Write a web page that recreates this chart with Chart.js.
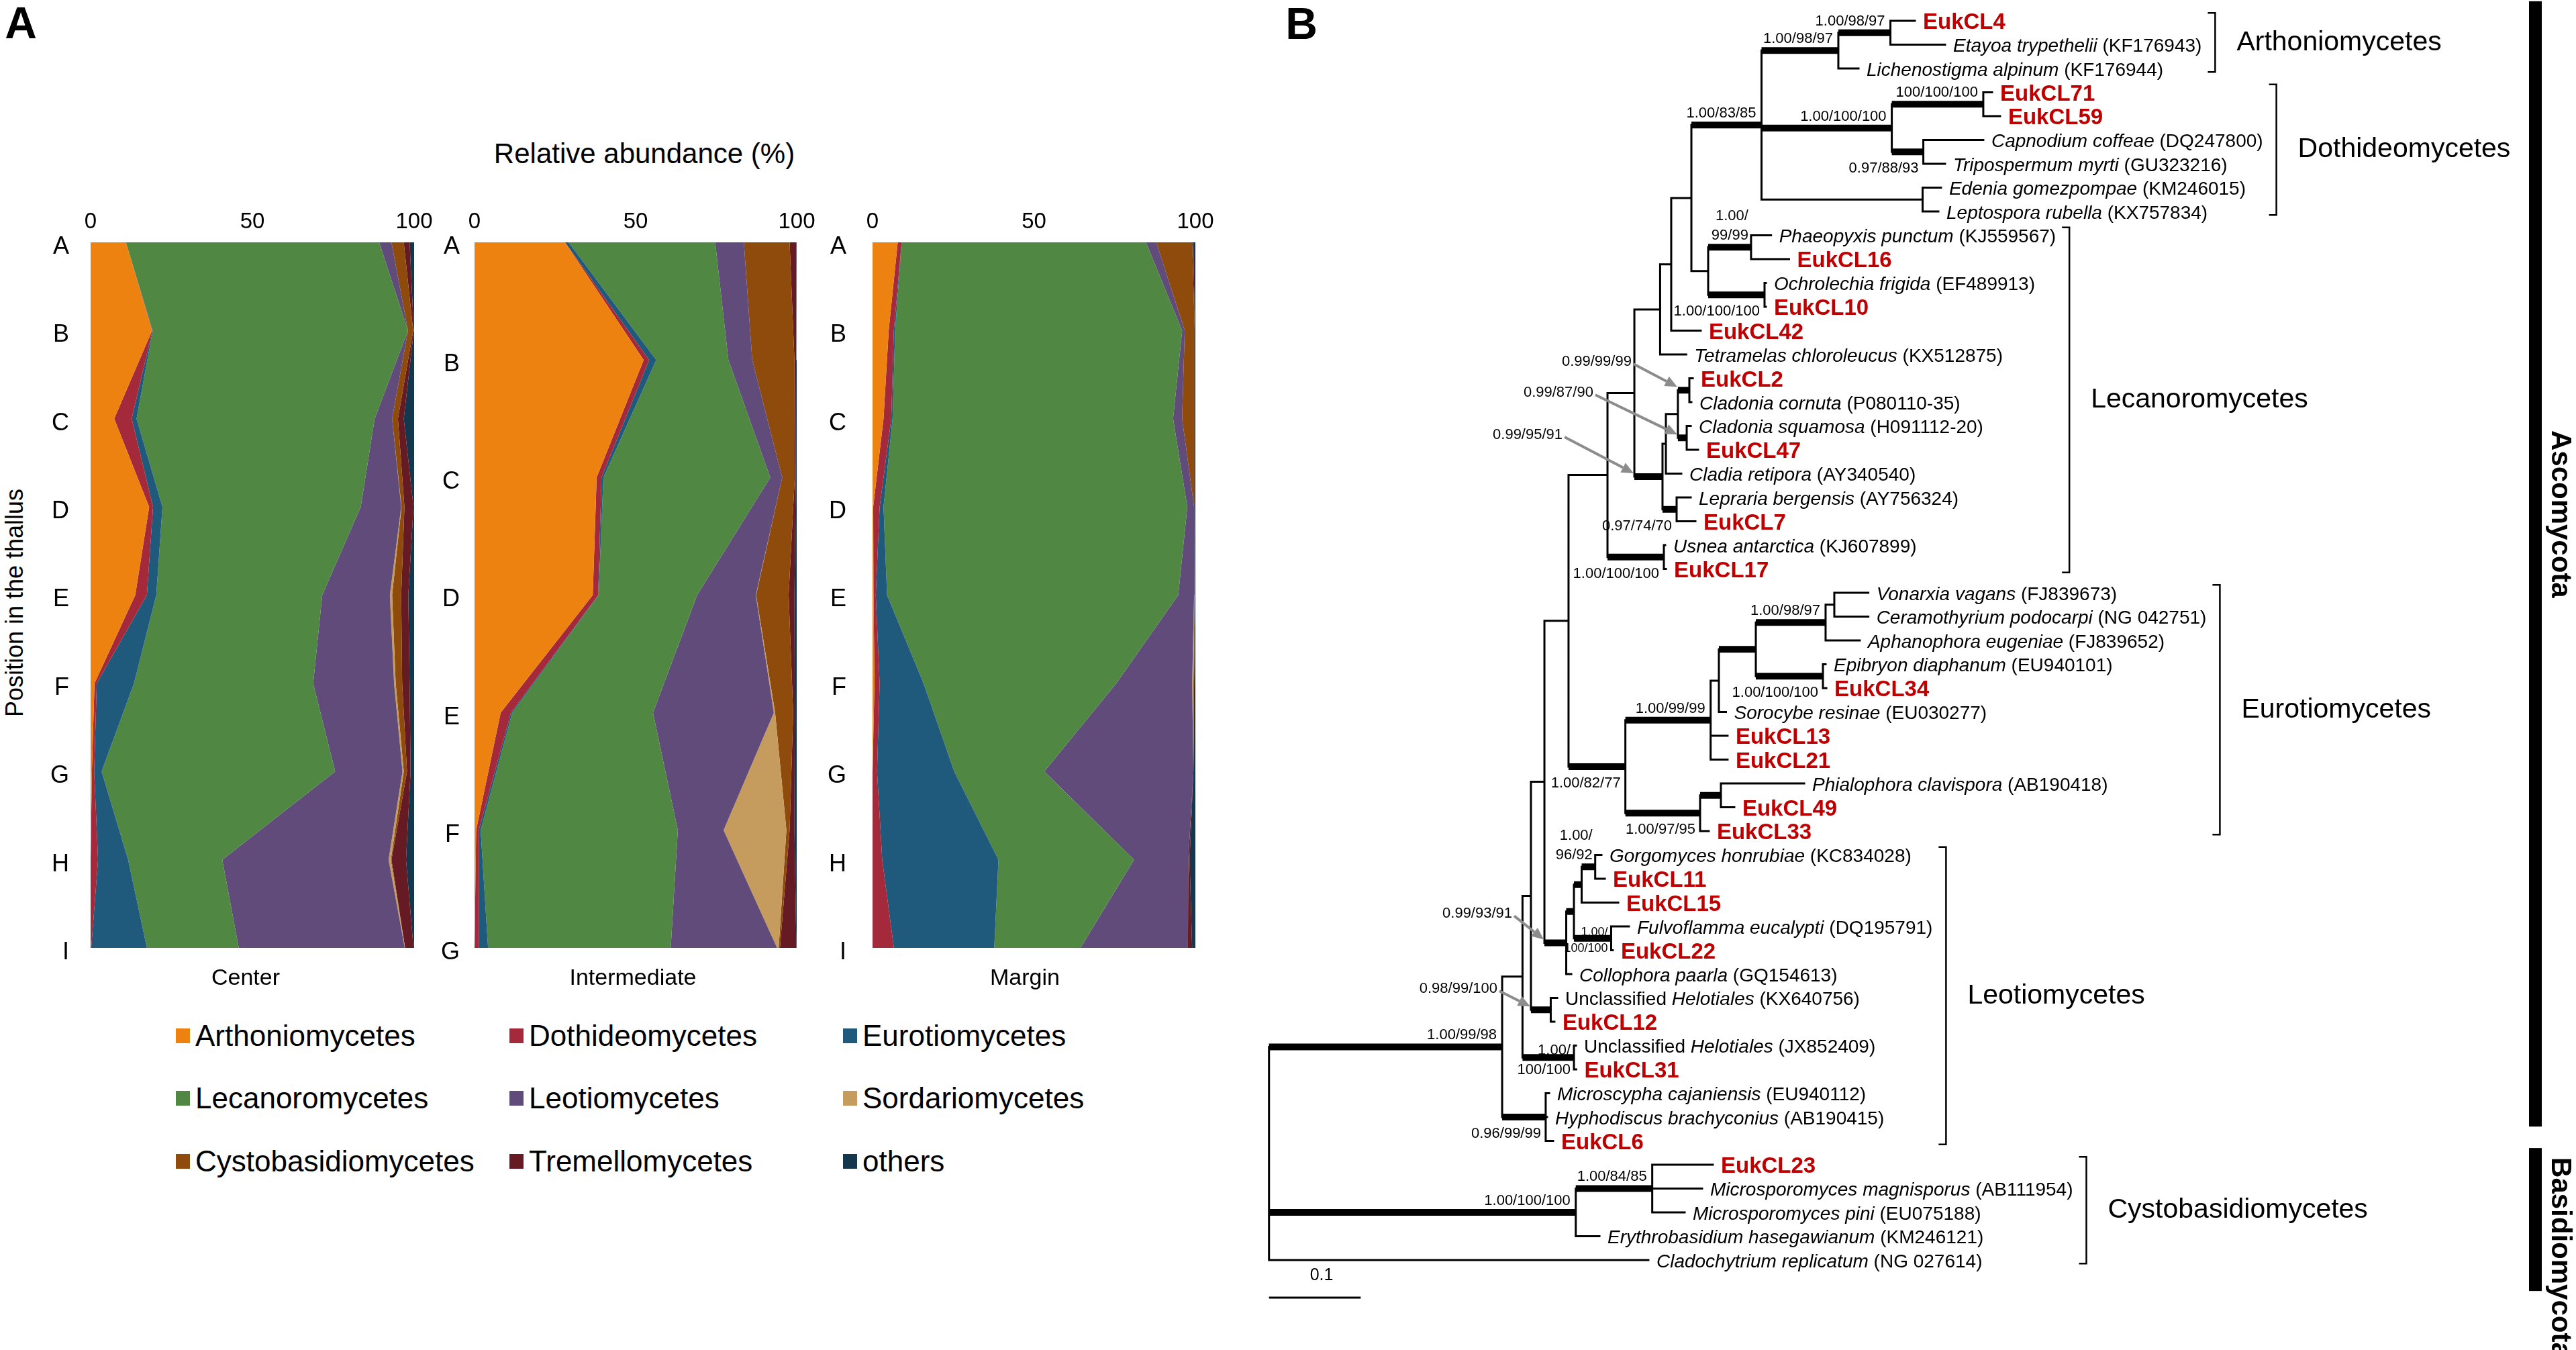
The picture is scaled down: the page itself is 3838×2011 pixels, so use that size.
<!DOCTYPE html>
<html>
<head>
<meta charset="utf-8">
<script src="https://cdn.jsdelivr.net/npm/chart.js@4.4.1/dist/chart.umd.min.js"></script>
<style>
  html, body { margin: 0; padding: 0; background: #fff; }
  #page { position: relative; width: 3838px; height: 2011px; overflow: hidden; background: #fff;
          font-family: "Liberation Sans", Arial, Helvetica, sans-serif; color: #000; }
  #page canvas { position: absolute; }
  .txt { position: absolute; white-space: nowrap; line-height: 1; }
  .sw { position: absolute; width: 21px; height: 22px; }
</style>
</head>
<body>
<div id="page"></div>
<script>
const FONT = '"Liberation Sans", Arial, Helvetica, sans-serif';

// ---------------- Panel A: relative abundance along the thallus ----------------
const taxa = ['Arthoniomycetes', 'Dothideomycetes', 'Eurotiomycetes',
              'Lecanoromycetes', 'Leotiomycetes', 'Sordariomycetes',
              'Cystobasidiomycetes', 'Tremellomycetes', 'others'];
const taxaColors = ['#ee8210', '#a3293b', '#1f5a7d', '#4f8743', '#604b7a',
                    '#c59b5e', '#8e4b0c', '#661b24', '#15374d'];

const centerPositions = ['A', 'B', 'C', 'D', 'E', 'F', 'G', 'H', 'I'];
const intermediatePositions = ['A', 'B', 'C', 'D', 'E', 'F', 'G'];
const marginPositions = ['A', 'B', 'C', 'D', 'E', 'F', 'G', 'H', 'I'];

// one row per class (same order as taxa), one value per position (%)
const centerValues = [
  [10.9, 19.0, 7.3, 18.1, 13.8, 1.2, 0.4, 0, 0],
  [0, 0.1, 5.4, 1.2, 3.6, 0.7, 0.7, 2.3, 0.2],
  [0, 0.1, 1.5, 2.9, 2.9, 11.5, 2.3, 9.3, 17.2],
  [78.3, 78.9, 73.6, 61.3, 51.3, 55.4, 72.2, 29.1, 28.4],
  [3.8, 0, 5.4, 12.5, 20.9, 25.0, 20.8, 51.4, 51.3],
  [0, 0, 0, 0.1, 0.7, 0.5, 0.4, 0.7, 0.1],
  [3.8, 1.6, 1.8, 0.9, 2.8, 2.0, 1.0, 0.2, 0],
  [1.8, 0.2, 1.8, 2.8, 2.2, 2.3, 1.1, 4.5, 2.6],
  [1.4, 0.1, 3.2, 0.2, 1.8, 1.4, 1.1, 2.5, 0.2]
];
const intermediateValues = [
  [28.1, 52.5, 37.9, 36.7, 8.1, 0.5, 0],
  [0, 1.7, 1.5, 1.7, 3.2, 0.8, 1.3],
  [1.1, 2.2, 0.6, 0.1, 0.4, 0.6, 2.9],
  [45.5, 22.4, 51.8, 30.6, 43.7, 61.2, 56.7],
  [8.9, 7.4, 3.7, 18.2, 37.5, 14.2, 33.0],
  [0, 0, 0, 0.1, 0.4, 19.5, 0.5],
  [14.2, 13.1, 3.9, 10.1, 5.6, 1.0, 0.4],
  [2.1, 0.5, 0.3, 1.8, 0.5, 1.5, 5.1],
  [0.1, 0.2, 0.3, 0.7, 0.6, 0.7, 0.1]
];
const marginValues = [
  [7.8, 5.0, 3.4, 0.2, 0.3, 0.6, 0, 0, 0],
  [1.2, 1.6, 2.4, 2.0, 0.7, 1.6, 1.4, 3.0, 6.6],
  [0, 0.4, 0.4, 1.2, 3.5, 13.6, 23.9, 36.0, 31.1],
  [75.7, 88.9, 86.9, 94.1, 90.2, 59.7, 27.9, 42.0, 26.7],
  [3.2, 0.8, 2.8, 2.1, 4.9, 23.5, 46.2, 16.8, 33.3],
  [0, 0, 0, 0, 0.1, 0.4, 0, 0, 0],
  [11.1, 3.1, 3.9, 0.2, 0.1, 0.2, 0, 0, 0],
  [0.4, 0, 0, 0, 0, 0, 0, 0.4, 1.3],
  [0.6, 0.2, 0.2, 0.2, 0.2, 0.4, 0.6, 1.8, 1.0]
];
const xTicks = [0, 50, 100];

// ---------------- Panel B: phylogenetic tree ----------------
const leafNames = [
  'EukCL4', 'Etayoa trypethelii', 'Lichenostigma alpinum', 'EukCL71', 'EukCL59',
  'Capnodium coffeae', 'Tripospermum myrti', 'Edenia gomezpompae', 'Leptospora rubella',
  'Phaeopyxis punctum', 'EukCL16', 'Ochrolechia frigida', 'EukCL10', 'EukCL42',
  'Tetramelas chloroleucus', 'EukCL2', 'Cladonia cornuta', 'Cladonia squamosa', 'EukCL47',
  'Cladia retipora', 'Lepraria bergensis', 'EukCL7', 'Usnea antarctica', 'EukCL17',
  'Vonarxia vagans', 'Ceramothyrium podocarpi', 'Aphanophora eugeniae', 'Epibryon diaphanum',
  'EukCL34', 'Sorocybe resinae', 'EukCL13', 'EukCL21', 'Phialophora clavispora', 'EukCL49',
  'EukCL33', 'Gorgomyces honrubiae', 'EukCL11', 'EukCL15', 'Fulvoflamma eucalypti', 'EukCL22',
  'Collophora paarla', 'Unclassified Helotiales', 'EukCL12', 'Unclassified Helotiales', 'EukCL31',
  'Microscypha cajaniensis', 'Hyphodiscus brachyconius', 'EukCL6', 'EukCL23',
  'Microsporomyces magnisporus', 'Microsporomyces pini', 'Erythrobasidium hasegawianum',
  'Cladochytrium replicatum'
];
const leafAcc = [
  '', 'KF176943', 'KF176944', '', '', 'DQ247800', 'GU323216', 'KM246015', 'KX757834',
  'KJ559567', '', 'EF489913', '', '', 'KX512875', '', 'P080110-35', 'H091112-20', '',
  'AY340540', 'AY756324', '', 'KJ607899', '', 'FJ839673', 'NG 042751', 'FJ839652', 'EU940101',
  '', 'EU030277', '', '', 'AB190418', '', '', 'KC834028', '', '', 'DQ195791', '',
  'GQ154613', 'KX640756', '', 'JX852409', '', 'EU940112', 'AB190415', '', '',
  'AB111954', 'EU075188', 'KM246121', 'NG 027614'
];
const leafParent = [
  'A2', 'A2', 'A1', 'D71', 'D71', 'CapT', 'CapT', 'EdL', 'EdL',
  'P16', 'P16', 'O10', 'O10', 'L2', 'L3', 'C2', 'C2', 'C3', 'C3',
  'X1', 'Lep7', 'Lep7', 'U', 'U', 'VC', 'VC', 'E5', 'E6',
  'E6', 'E3', 'E1', 'E1', 'E7', 'E7', 'E2', 'Gorg11', 'Gorg11', 'G2', 'F22', 'F22',
  'LeoA', 'Hel12', 'Hel12', 'Hel31', 'Hel31', 'Micro', 'Micro', 'Micro', 'X',
  'X', 'X', 'Basidio', 'root'
];
// distance from the root (substitutions per site)
const leafDepth = [
  0.7045, 0.7374, 0.6430, 0.7887, 0.7974, 0.7791, 0.7374, 0.7330, 0.7301,
  0.5476, 0.5672, 0.5419, 0.5419, 0.4709, 0.4551, 0.4622, 0.4607, 0.4600, 0.4680,
  0.4497, 0.4600, 0.4651, 0.4321, 0.4329, 0.6537, 0.6537, 0.6444, 0.6071,
  0.6079, 0.4984, 0.5002, 0.5002, 0.5837, 0.5075, 0.4797, 0.3626, 0.3663, 0.3809, 0.3926, 0.3750,
  0.3297, 0.3143, 0.3113, 0.3348, 0.3351, 0.3055, 0.3033, 0.3099, 0.4841,
  0.4724, 0.4534, 0.3604, 0.4138
];

const nodeNames = ['root', 'Asco', 'Basidio', 'X', 'Micro', 'L9', 'Hel31', 'L8', 'Hel12', 'L7',
  'LeoA', 'G3', 'G2', 'Gorg11', 'F22', 'L6', 'E0', 'E1', 'E3', 'E4', 'E5', 'VC', 'E6', 'E2', 'E7',
  'L5', 'U', 'L4', 'C0', 'X1', 'C1', 'C2', 'C3', 'Lep7', 'L3', 'L2', 'L1', 'Lec1', 'P16', 'O10',
  'D1', 'A1', 'A2', 'DothA', 'D71', 'CapT', 'EdL'];
const nodeParent = [null, 'root', 'root', 'Basidio', 'Asco', 'Asco', 'L9', 'L9', 'L8', 'L8',
  'L7', 'LeoA', 'G3', 'G2', 'G3', 'L7', 'L6', 'E0', 'E1', 'E3', 'E4', 'E5', 'E4', 'E0', 'E2',
  'L6', 'L5', 'L5', 'L4', 'C0', 'X1', 'C1', 'C1', 'C0', 'L4', 'L3', 'L2', 'L1', 'Lec1', 'Lec1',
  'L1', 'D1', 'A1', 'D1', 'DothA', 'DothA', 'D1'];
const nodeDepth = [0, 0.2543, 0.3346, 0.4180, 0.3018, 0.2765, 0.3326, 0.2857, 0.3073, 0.3004,
  0.3242, 0.3326, 0.3410, 0.3558, 0.3732, 0.3267, 0.3887, 0.4817, 0.4907, 0.5310, 0.6071, 0.6166,
  0.6042, 0.4702, 0.4929, 0.3692, 0.4307, 0.3985, 0.4292, 0.4329, 0.4460, 0.4585, 0.4556, 0.4446,
  0.4266, 0.4387, 0.4607, 0.4790, 0.5258, 0.5405, 0.5372, 0.6210, 0.6778, 0.6793, 0.7791, 0.7137,
  0.7129];
// posterior probability / ML bootstrap / MP bootstrap
const nodeSupport = ['', '1.00/99/98', '1.00/100/100', '1.00/84/85', '0.96/99/99', '',
  '1.00/|100/100', '', '0.98/99/100', '', '0.99/93/91', '', '', '1.00/\n96/92', '1.00/|100/100',
  '', '1.00/82/77', '1.00/99/99', '', '', '1.00/98/97', '', '1.00/100/100', '1.00/97/95', '',
  '', '1.00/100/100', '', '0.99/95/91', '', '', '0.99/99/99', '0.99/87/90', '0.97/74/70',
  '', '', '', '', '1.00/\n99/99', '1.00/100/100', '1.00/83/85', '1.00/98/97', '1.00/98/97',
  '1.00/100/100', '100/100/100', '0.97/88/93', ''];
const nodeThick = [false, true, true, true, true, false, true, false, true, false,
  true, true, true, true, true, false, true, true, false, true, true, false, true, true, true,
  false, true, false, true, false, false, true, true, true, false, false, false, false, true, true,
  true, true, true, true, true, true, false];

const cladeNames = ['Arthoniomycetes', 'Dothideomycetes', 'Lecanoromycetes',
                    'Eurotiomycetes', 'Leotiomycetes', 'Cystobasidiomycetes'];
const cladeFirst = [0, 3, 9, 24, 35, 48];
const cladeLast = [2, 8, 23, 34, 47, 52];
const phylumNames = ['Ascomycota', 'Basidiomycota'];

// ---------------- layout ----------------
const page = document.getElementById('page');

function addText(text, x, y, size, opts = {}) {
  const d = document.createElement('div');
  d.className = 'txt';
  d.textContent = text;
  d.style.left = x + 'px';
  d.style.top = y + 'px';
  d.style.fontSize = size + 'px';
  if (opts.bold) d.style.fontWeight = 'bold';
  d.style.transform = opts.left ? 'translateY(-50%)'
    : 'translate(-50%,-50%)' + (opts.rotate ? ` rotate(${opts.rotate}deg)` : '');
  page.appendChild(d);
  return d;
}

function addCanvas(left, top, width, height) {
  const c = document.createElement('canvas');
  c.width = width; c.height = height;
  c.style.left = left + 'px'; c.style.top = top + 'px';
  c.style.width = width + 'px'; c.style.height = height + 'px';
  page.appendChild(c);
  return c;
}

const PLOT_TOP = 361, PLOT_BOTTOM = 1412, CANVAS_TOP = 290, PAD_RIGHT = 48;

function areaChart(positions, values, canvasLeft, plotLeft, plotRight, labelPad) {
  // bottom padding must exceed the half-label + tick padding Chart.js reserves
  const padBottom = labelPad + 26;
  const width = plotRight + PAD_RIGHT - canvasLeft;
  const height = PLOT_BOTTOM + padBottom - CANVAS_TOP;
  const canvas = addCanvas(canvasLeft, CANVAS_TOP, width, height);
  return new Chart(canvas, {
    type: 'line',
    data: {
      labels: positions,
      datasets: taxa.map((name, i) => ({
        label: name,
        data: values[i],
        backgroundColor: taxaColors[i],
        borderColor: taxaColors[i],
        borderWidth: 0,
        pointRadius: 0,
        tension: 0,
        fill: i === 0 ? 'origin' : '-1'
      }))
    },
    options: {
      indexAxis: 'y',
      responsive: false,
      animation: false,
      events: [],
      layout: { padding: { left: 0, top: 0, right: PAD_RIGHT, bottom: padBottom } },
      plugins: { legend: { display: false }, tooltip: { enabled: false } },
      scales: {
        x: {
          type: 'linear', position: 'top', stacked: true, min: 0, max: 100,
          afterBuildTicks: s => { s.ticks = xTicks.map(v => ({ value: v })); },
          ticks: { color: '#000', padding: 10, maxRotation: 0, font: { family: FONT, size: 33 } },
          grid: { display: false, drawTicks: false },
          border: { display: false },
          afterFit: s => { s.height = PLOT_TOP - CANVAS_TOP; }
        },
        y: {
          type: 'category', offset: false,
          ticks: { color: '#000', padding: labelPad, labelOffset: 7, autoSkip: false,
                   font: { family: FONT, size: 36 } },
          grid: { display: false, drawTicks: false },
          border: { display: false },
          afterFit: s => { s.width = plotLeft - canvasLeft; }
        }
      }
    }
  });
}

addText('A', 31, 34, 66, { bold: true });
addText('Relative abundance (%)', 960, 229, 42);
addText('Position in the thallus', 22, 898, 36, { rotate: -90 });

areaChart(centerPositions, centerValues, 40, 135, 617, 32);
areaChart(intermediatePositions, intermediateValues, 640, 707, 1187, 22);
areaChart(marginPositions, marginValues, 1215, 1300, 1781, 39);

addText('Center', 366, 1455, 34);
addText('Intermediate', 943, 1455, 34);
addText('Margin', 1527, 1455, 34);

// legend, 3 x 3
const legendCols = [262, 759, 1256];
const legendRows = [1543, 1636, 1730];
taxa.forEach((name, i) => {
  const x = legendCols[i % 3], y = legendRows[Math.floor(i / 3)];
  const sw = document.createElement('div');
  sw.className = 'sw';
  sw.style.left = x + 'px';
  sw.style.top = (y - 11) + 'px';
  sw.style.background = taxaColors[i];
  page.appendChild(sw);
  addText(name, x + 29, y, 44, { left: true });
});

// ---------------- tree geometry ----------------
const pos = {};
const kids = {};
nodeNames.forEach(n => { kids[n] = []; });
leafNames.forEach((_, i) => {
  pos['leaf' + i] = { x: leafDepth[i], y: i };
  kids[leafParent[i]].push('leaf' + i);
});
nodeNames.forEach((n, k) => { if (nodeParent[k]) kids[nodeParent[k]].push(n); });

function placeNode(n) {
  if (pos[n]) return pos[n].y;
  const ys = kids[n].map(placeNode);
  const y = (Math.min(...ys) + Math.max(...ys)) / 2;
  pos[n] = { x: nodeDepth[nodeNames.indexOf(n)], y };
  return y;
}
placeNode('root');

const thinPts = [], thickPts = [];
const GAP = { x: null, y: null };
function addBranch(parent, child, thick) {
  const p = pos[parent], c = pos[child];
  if (thick) {
    thinPts.push({ x: p.x, y: p.y }, { x: p.x, y: c.y }, GAP);
    thickPts.push({ x: p.x, y: c.y }, { x: c.x, y: c.y }, GAP);
  } else {
    thinPts.push({ x: p.x, y: p.y }, { x: p.x, y: c.y }, { x: c.x, y: c.y }, GAP);
  }
}
nodeNames.forEach((n, k) => { if (nodeParent[k]) addBranch(nodeParent[k], n, nodeThick[k]); });
leafNames.forEach((_, i) => addBranch(leafParent[i], 'leaf' + i, false));

// where the support values go
const supportPlacement = {
  Micro: 'below', CapT: 'below', O10: 'below', Lep7: 'below', U: 'below', E0: 'below',
  E6: 'below', E2: 'below', Hel31: 'split', F22: 'split',
  C2: 'arrow', C3: 'arrow', C0: 'arrow', LeoA: 'arrow', Hel12: 'arrow'
};
const arrowOffsets = { C2: [-69, -42], C3: [-126, -67], C0: [-107, -62], LeoA: [-48, -43], Hel12: [-50, -31] };
const phylumSpan = [[-0.82, 46.4], [47.3, 53.3]];
const phylumLabelAt = [20.7, 51.9];

function leafRuns(i) {
  const name = leafNames[i];
  const it = `italic 28px ${FONT}`, rm = `28px ${FONT}`;
  if (name.startsWith('EukCL')) return [{ t: name, f: `bold 33px ${FONT}`, c: '#c00000' }];
  const acc = { t: ` (${leafAcc[i]})`, f: rm, c: '#000' };
  if (name.startsWith('Unclassified ')) {
    return [{ t: 'Unclassified ', f: rm, c: '#000' }, { t: name.slice(13), f: it, c: '#000' }, acc];
  }
  return [{ t: name, f: it, c: '#000' }, acc];
}

function drawArrow(ctx, x1, y1, x2, y2) {
  const a = Math.atan2(y2 - y1, x2 - x1), L = 18, W = 8;
  const bx = x2 - L * Math.cos(a), by = y2 - L * Math.sin(a);
  ctx.strokeStyle = '#8c8c8c'; ctx.fillStyle = '#8c8c8c'; ctx.lineWidth = 4;
  ctx.beginPath(); ctx.moveTo(x1, y1); ctx.lineTo(bx, by); ctx.stroke();
  ctx.beginPath();
  ctx.moveTo(x2, y2);
  ctx.lineTo(bx + W * Math.sin(a), by - W * Math.cos(a));
  ctx.lineTo(bx - W * Math.sin(a), by + W * Math.cos(a));
  ctx.closePath(); ctx.fill();
}

const treeDecor = {
  id: 'treeDecor',
  afterDatasetsDraw(chart) {
    const { ctx, chartArea } = chart;
    const X = v => chart.scales.x.getPixelForValue(v);
    const Y = v => chart.scales.y.getPixelForValue(v);
    ctx.save();

    // tip labels
    const labelEnd = [];
    ctx.textAlign = 'left';
    ctx.textBaseline = 'middle';
    leafNames.forEach((_, i) => {
      let x = X(leafDepth[i]) + 12;
      const y = Y(i) + 3;
      leafRuns(i).forEach(r => {
        ctx.font = r.f; ctx.fillStyle = r.c;
        ctx.fillText(r.t, x, y);
        x += ctx.measureText(r.t).width;
      });
      labelEnd[i] = x;
    });

    // support values
    nodeNames.forEach((n, k) => {
      const s = nodeSupport[k];
      if (!s) return;
      const nx = X(pos[n].x), ny = Y(pos[n].y), bx = X(pos[nodeParent[k]].x);
      const mode = supportPlacement[n] || 'above';
      ctx.fillStyle = '#000';
      ctx.textAlign = 'right';
      ctx.textBaseline = 'alphabetic';
      ctx.font = `${n === 'F22' ? 18 : 22}px ${FONT}`;
      if (mode === 'above') {
        const lines = s.split('\n');
        const dx = lines.length > 1 ? 4 : 8;
        lines.forEach((t, j) => ctx.fillText(t, nx - dx, ny - 11 - (lines.length - 1 - j) * 29));
      } else if (mode === 'below') {
        ctx.fillText(s, nx - 7, ny + 31);
      } else if (mode === 'split') {
        const [a, b] = s.split('|');
        ctx.fillText(a, nx - 5, ny - 4);
        ctx.fillText(b, nx - 5, ny + (n === 'F22' ? 20 : 25));
      } else {
        const [dx, dy] = arrowOffsets[n];
        const tx = bx + dx, ty = ny + dy;
        ctx.textBaseline = 'middle';
        ctx.fillText(s, tx, ty);
        drawArrow(ctx, tx + 3, ty + 3, bx - 1, ny - 5);
      }
    });

    // clade brackets
    ctx.strokeStyle = '#000'; ctx.fillStyle = '#000'; ctx.lineWidth = 2.5;
    ctx.textAlign = 'left'; ctx.textBaseline = 'middle';
    ctx.font = `41px ${FONT}`;
    cladeNames.forEach((name, c) => {
      const bxp = Math.max(...labelEnd.slice(cladeFirst[c], cladeLast[c] + 1)) + 20;
      const y1 = Y(cladeFirst[c] - 0.33), y2 = Y(cladeLast[c] + 0.15);
      ctx.beginPath();
      ctx.moveTo(bxp - 11, y1); ctx.lineTo(bxp, y1); ctx.lineTo(bxp, y2); ctx.lineTo(bxp - 11, y2);
      ctx.stroke();
      ctx.fillText(name, bxp + 32, (y1 + y2) / 2);
    });

    // phylum bars
    const barX = chartArea.right - 60.5;
    ctx.font = `bold 42px ${FONT}`;
    ctx.textAlign = 'center';
    phylumNames.forEach((name, p) => {
      ctx.fillRect(barX - 9.5, Y(phylumSpan[p][0]), 19, Y(phylumSpan[p][1]) - Y(phylumSpan[p][0]));
      ctx.save();
      ctx.translate(chartArea.right - 24, Y(phylumLabelAt[p]));
      ctx.rotate(Math.PI / 2);
      ctx.fillText(name, 0, 0);
      ctx.restore();
    });

    // scale bar
    const s0 = X(0), s1 = X(0.1), sy = Y(53.58);
    ctx.lineWidth = 3;
    ctx.beginPath(); ctx.moveTo(s0, sy); ctx.lineTo(s1, sy); ctx.stroke();
    ctx.font = `25px ${FONT}`;
    ctx.fillText('0.1', (s0 + s1) / 2 + 10, Y(52.65));
    ctx.restore();
  }
};

const treeCanvas = addCanvas(1850, 0, 1988, 2011);
new Chart(treeCanvas, {
  type: 'scatter',
  data: {
    datasets: [
      { data: thinPts, showLine: true, spanGaps: false, borderColor: '#000', borderWidth: 3,
        borderCapStyle: 'square', pointRadius: 0, tension: 0 },
      { data: thickPts, showLine: true, spanGaps: false, borderColor: '#000', borderWidth: 10,
        borderCapStyle: 'butt', pointRadius: 0, tension: 0 }
    ]
  },
  options: {
    responsive: false,
    animation: false,
    events: [],
    layout: { padding: 0 },
    plugins: { legend: { display: false }, tooltip: { enabled: false } },
    scales: {
      x: { type: 'linear', display: false, min: -0.0298, max: 1.4256 },
      y: { type: 'linear', display: false, reverse: true, min: -0.8732, max: 55.775 }
    }
  },
  plugins: [treeDecor]
});

addText('B', 1939, 35, 66, { bold: true });
</script>
</body>
</html>
